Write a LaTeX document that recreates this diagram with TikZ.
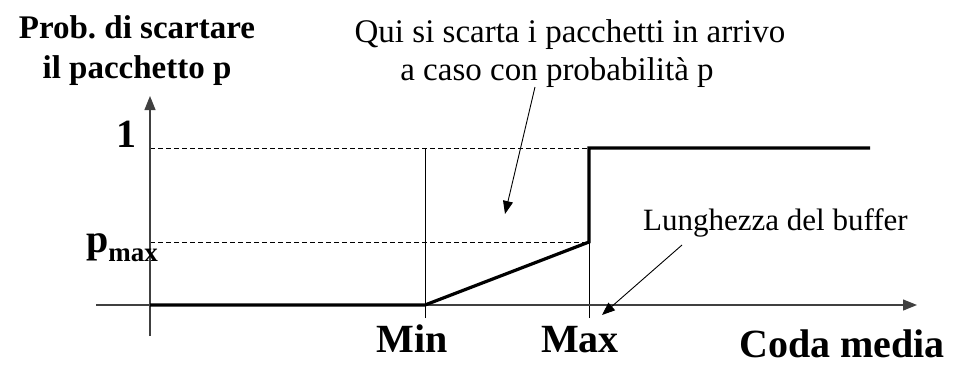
\documentclass[tikz,border=0pt]{standalone}
\usepackage{fontspec}
\setmainfont{Liberation Serif}
\usetikzlibrary{arrows.meta}
\frenchspacing
\begin{document}
\begin{tikzpicture}[x=1pt,y=-1pt,
  axis/.style={draw=black!75, line width=1.2pt, -{Triangle[length=14pt,width=11pt]}},
  thin/.style={draw=black, line width=0.8pt},
  guide/.style={draw=black, line width=0.8pt, dashed, dash pattern=on 5pt off 3pt},
  curve/.style={draw=black, line width=3.2pt},
  callout/.style={draw=black, line width=0.9pt, -{Triangle[length=13pt,width=10pt]}},
  big/.style={font=\fontsize{40}{40}\selectfont\bfseries, inner sep=0pt, anchor=base},
  title/.style={font=\fontsize{33}{40}\selectfont\bfseries, inner sep=0pt, anchor=base},
  note/.style={font=\fontsize{33}{38}\selectfont, inner sep=0pt, anchor=base}]
\useasboundingbox (0,0) rectangle (954,365);
% coordinates
\coordinate (o) at (150,305);
\coordinate (ytop) at (150,96);
\coordinate (ybot) at (150,336);
\coordinate (xleft) at (96,305);
\coordinate (xright) at (917,305);
\coordinate (min) at (425,305);
\coordinate (max) at (589,305);
\coordinate (minbot) at (425,318);
\coordinate (maxbot) at (589,318);
\coordinate (mintop) at (425,148);
\coordinate (one) at (150,148);
\coordinate (pm) at (150,242);
\coordinate (maxpm) at (589,242);
\coordinate (maxone) at (589,148);
\coordinate (end) at (870,148);
% guides
\draw[guide] (one) -- (maxone);
\draw[guide] (pm) -- (maxpm);
\draw[thin] (minbot) -- (mintop);
\draw[thin] (maxbot) -- (maxone);
% axes
\draw[axis] (xleft) -- (xright);
\draw[axis] (ybot) -- (ytop);
% curve
\draw[curve, line join=miter] (o) -- (min) -- (maxpm) -- (maxone) -- (end);
% labels
\node[title] (t1) at (137,38) {Prob. di scartare};
\node[title] (t2) at (137,78) {il pacchetto p};
\node[big] (l1) at (126,147) {1};
\node[big, anchor=base west] (lp) at (86,252) {p\raisebox{-9pt}{\fontsize{27}{27}\selectfont max}};
\node[big] (lmin) at (412,352) {Min};
\node[big] (lmax) at (580,352) {Max};
\node[big, anchor=base west] (lcoda) at (739,357) {Coda media};
\node[note] (q1) at (570,42) {Qui si scarta i pacchetti in arrivo};
\node[note] (q2) at (557,80) {a caso con probabilità p};
\node[note, font=\fontsize{31}{31}\selectfont, anchor=base west] (lb) at (643,230) {Lunghezza del buffer};
% callouts
\coordinate (c1s) at (535,87);
\coordinate (c1e) at (505,214);
\coordinate (c2s) at (682,245);
\coordinate (c2e) at (602,315);
\draw[callout] (c1s) -- (c1e);
\draw[callout] (c2s) -- (c2e);
\end{tikzpicture}
\end{document}
